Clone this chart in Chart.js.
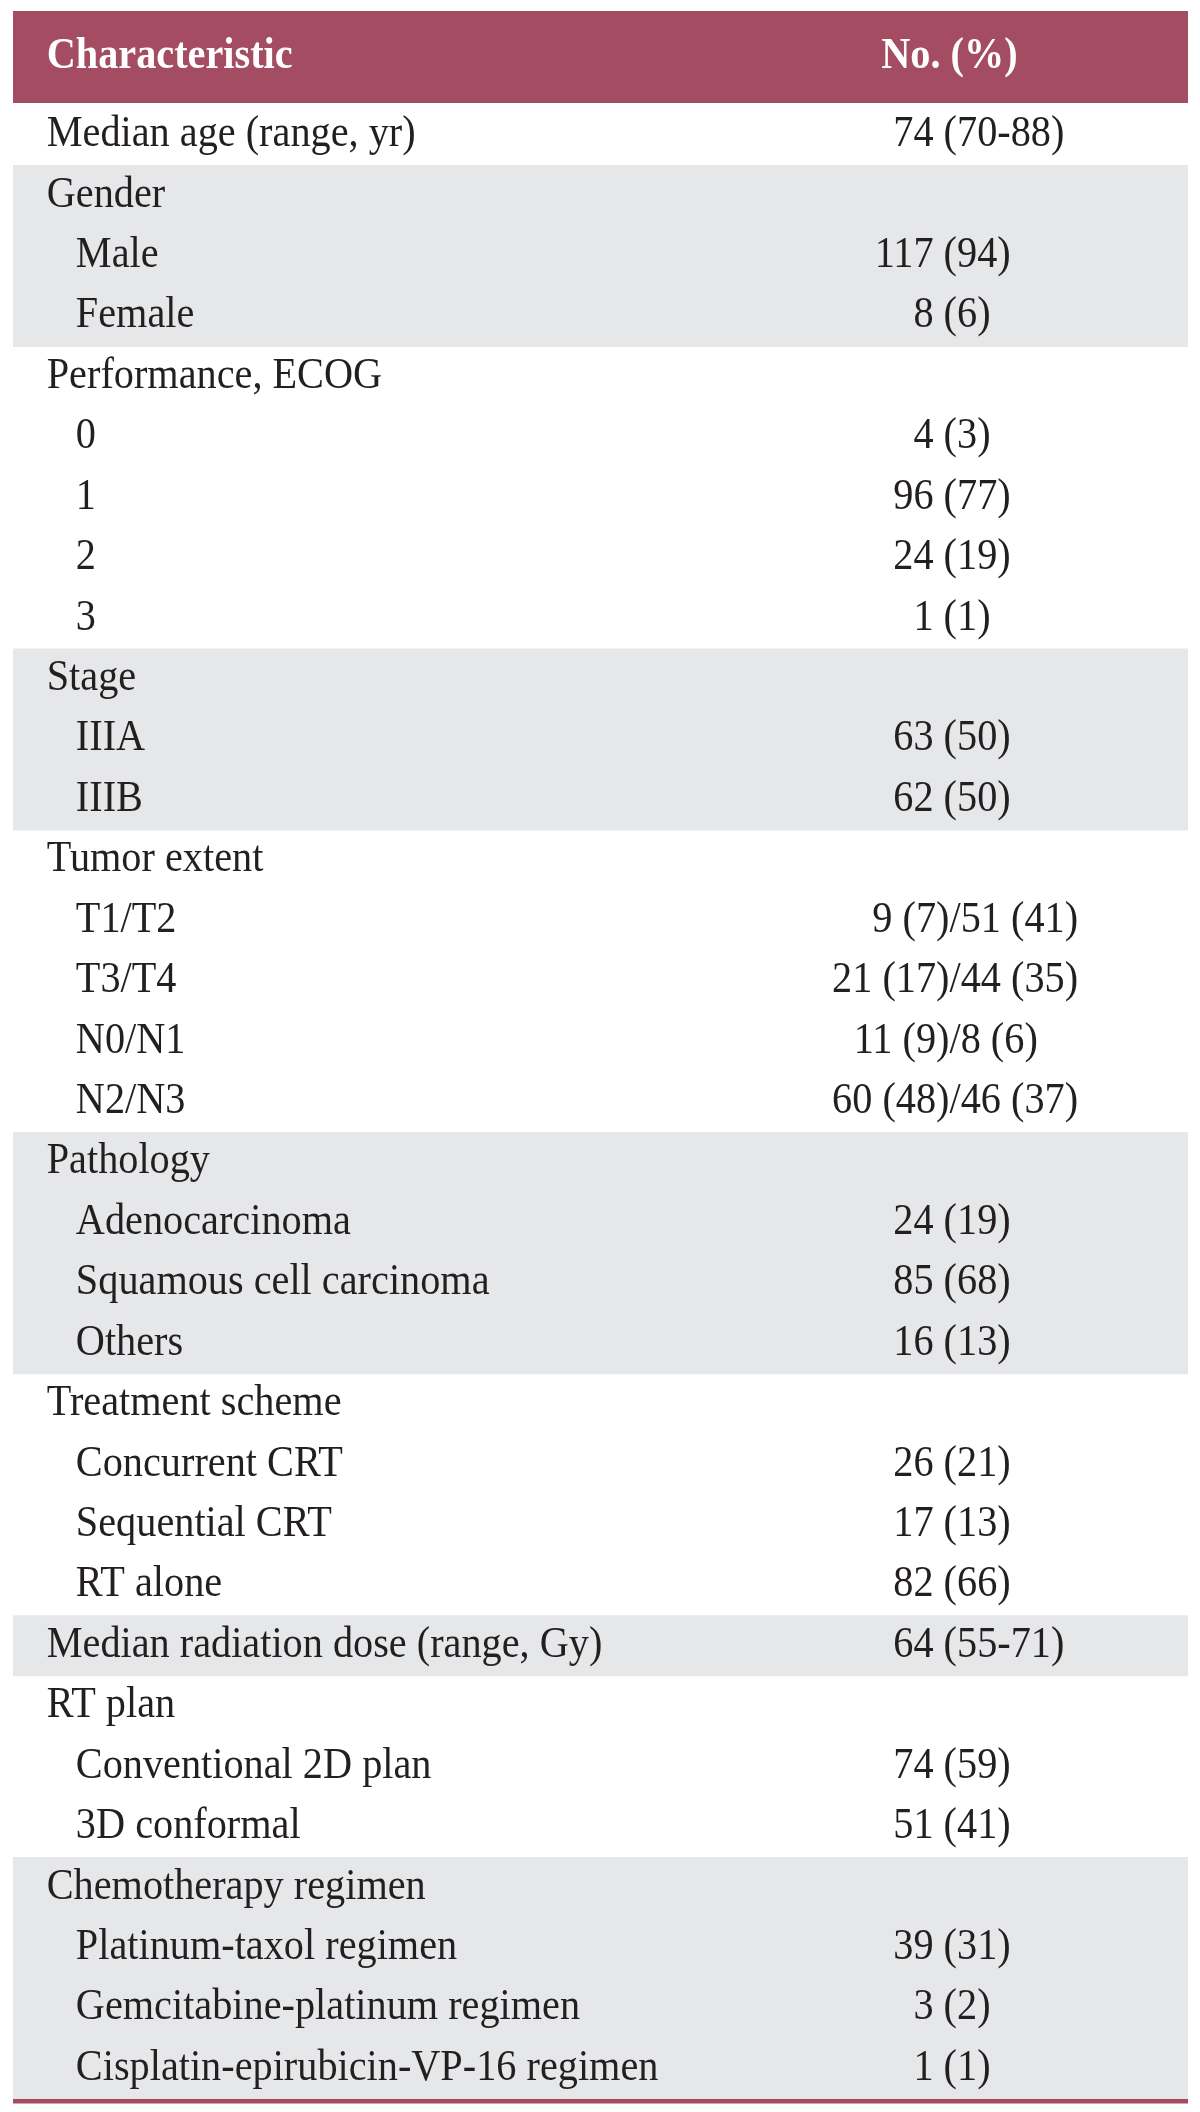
<!DOCTYPE html>
<html>
<head>
<meta charset="utf-8">
<title>Patient characteristics</title>
<script src="https://cdn.jsdelivr.net/npm/chart.js@4.4.1/dist/chart.umd.min.js"></script>
<style>
  html,body{margin:0;padding:0;background:#fff}
  #wrap{width:1200px;height:2112px;position:relative}
</style>
</head>
<body>
<div id="wrap"><canvas id="table"></canvas></div>
<script>
// ---- data ----
const headers = ['Characteristic', 'No. (%)'];
const rowLabels = [
  'Median age (range, yr)',
  'Gender', 'Male', 'Female',
  'Performance, ECOG', '0', '1', '2', '3',
  'Stage', 'IIIA', 'IIIB',
  'Tumor extent', 'T1/T2', 'T3/T4', 'N0/N1', 'N2/N3',
  'Pathology', 'Adenocarcinoma', 'Squamous cell carcinoma', 'Others',
  'Treatment scheme', 'Concurrent CRT', 'Sequential CRT', 'RT alone',
  'Median radiation dose (range, Gy)',
  'RT plan', 'Conventional 2D plan', '3D conformal',
  'Chemotherapy regimen', 'Platinum-taxol regimen', 'Gemcitabine-platinum regimen', 'Cisplatin-epirubicin-VP-16 regimen'
];
const rowValues = [
  '74 (70-88)',
  '', '117 (94)', '8 (6)',
  '', '4 (3)', '96 (77)', '24 (19)', '1 (1)',
  '', '63 (50)', '62 (50)',
  '', '9 (7)/51 (41)', '21 (17)/44 (35)', '11 (9)/8 (6)', '60 (48)/46 (37)',
  '', '24 (19)', '85 (68)', '16 (13)',
  '', '26 (21)', '17 (13)', '82 (66)',
  '64 (55-71)',
  '', '74 (59)', '51 (41)',
  '', '39 (31)', '3 (2)', '1 (1)'
];
// 0 = group heading, 1 = item inside a group
const rowLevel = [0, 0,1,1, 0,1,1,1,1, 0,1,1, 0,1,1,1,1, 0,1,1,1, 0,1,1,1, 0, 0,1,1, 0,1,1,1];

// ---- look ----
const RED = '#a34c62', GRAY = '#e6e7e9', INK = '#231f20';
const FONT = '44px "Liberation Serif", "Times New Roman", serif';
const FONT_B = 'bold 44px "Liberation Serif", "Times New Roman", serif';
const SX = 0.915; // the printed face is a little condensed
// column positions on the 0..100 x scale (table width)
const LABEL_X = 2.87, INDENT_X = 5.35, PAREN_X = 79.2, SLASH_X = 79.7, HEAD_VAL_X = 79.7;
const HEAD_H = 92, HEAD_GAP = 2, BASE_DY = 11, RULE_H = 4.5;

// groups alternate white / gray
const shaded = [];
let grp = -1;
rowLevel.forEach(lv => { if (lv === 0) grp++; shaded.push(grp % 2 === 1 ? 100 : null); });

// ---- text helpers ----
function txt(ctx, s, x, y, align){
  ctx.save();
  ctx.translate(x, y);
  ctx.scale(SX, 1);
  ctx.textAlign = align;
  ctx.fillText(s, 0, 0);
  ctx.restore();
}
function drawValue(ctx, str, xs, y){
  const anchor = str.includes('/') ? '/' : '(';
  const ax = xs.getPixelForValue(anchor === '/' ? SLASH_X : PAREN_X);
  const i = str.indexOf(anchor);
  txt(ctx, str.slice(0, i), ax, y, 'right');
  txt(ctx, str.slice(i), ax, y, 'left');
}

const tablePlugin = {
  id: 'tableText',
  afterDatasetsDraw(chart){
    const {ctx, chartArea: a, scales: {x, y}} = chart;
    const w = a.right - a.left;
    ctx.save();
    ctx.textBaseline = 'alphabetic';
    // header band
    const hTop = a.top - HEAD_GAP - HEAD_H;
    ctx.fillStyle = RED;
    ctx.fillRect(a.left, hTop, w, HEAD_H);
    ctx.fillStyle = '#fff';
    ctx.font = FONT_B;
    txt(ctx, headers[0], x.getPixelForValue(LABEL_X), hTop + HEAD_H / 2 + 11, 'left');
    txt(ctx, headers[1], x.getPixelForValue(HEAD_VAL_X), hTop + HEAD_H / 2 + 11, 'center');
    // body rows
    ctx.fillStyle = INK;
    ctx.font = FONT;
    rowLabels.forEach((lab, i) => {
      const cy = y.getPixelForValue(i) + BASE_DY;
      txt(ctx, lab, x.getPixelForValue(rowLevel[i] ? INDENT_X : LABEL_X), cy, 'left');
      if (rowValues[i]) drawValue(ctx, rowValues[i], x, cy);
    });
    // bottom rule
    ctx.fillStyle = RED;
    ctx.fillRect(a.left, a.bottom, w, RULE_H);
    ctx.restore();
  }
};

// ---- chart ----
new Chart(document.getElementById('table'), {
  type: 'bar',
  data: {
    labels: rowLabels,
    datasets: [{
      data: shaded,
      backgroundColor: GRAY,
      borderWidth: 0,
      barPercentage: 1,
      categoryPercentage: 1
    }]
  },
  options: {
    indexAxis: 'y',
    responsive: true,
    maintainAspectRatio: false,
    animation: false,
    events: [],
    layout: { padding: { top: 105, bottom: 13, left: 13, right: 12 } },
    scales: {
      x: { type: 'linear', min: 0, max: 100, display: false },
      y: { type: 'category', display: false }
    },
    plugins: { legend: { display: false }, tooltip: { enabled: false } }
  },
  plugins: [tablePlugin]
});
</script>
</body>
</html>
